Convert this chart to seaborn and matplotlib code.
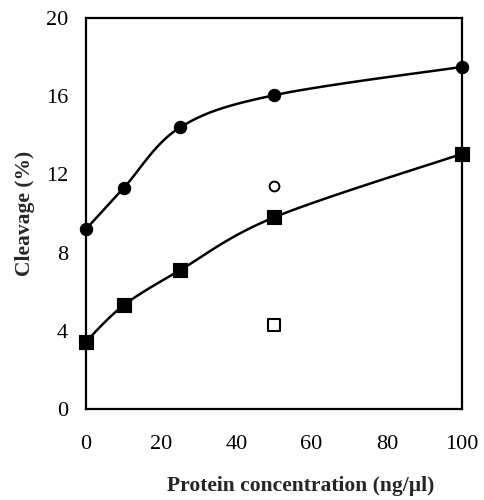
import numpy as np
import pandas as pd
import matplotlib
matplotlib.use("Agg")
import matplotlib.pyplot as plt
import seaborn as sns

# data
conc = [0, 10, 25, 50, 100]
filled_circle = [9.2, 11.3, 14.4, 16.05, 17.5]
filled_square = [3.45, 5.3, 7.1, 9.8, 13.05]
open_x = [50]
open_circle = [11.4]
open_square = [4.3]
x_ticks = [0, 20, 40, 60, 80, 100]
y_ticks = [0, 4, 8, 12, 16, 20]


def smooth(xs, ys, n=30):
    """Catmull-Rom curve through the points (display smoothing only)."""
    P = np.column_stack([xs, ys]).astype(float)
    P = np.vstack([P[0], P, P[-1]])
    out = []
    for i in range(1, len(P) - 2):
        p0, p1, p2, p3 = P[i - 1], P[i], P[i + 1], P[i + 2]
        t = np.linspace(0, 1, n, endpoint=False)[:, None]
        seg = 0.5 * ((2 * p1) + (-p0 + p2) * t + (2 * p0 - 5 * p1 + 4 * p2 - p3) * t ** 2
                     + (-p0 + 3 * p1 - 3 * p2 + p3) * t ** 3)
        out.append(seg)
    out.append(P[-2][None, :])
    out = np.vstack(out)
    return out[:, 0], out[:, 1]


sns.set_style("white")
plt.rcParams['font.family'] = ['Liberation Serif', 'DejaVu Serif']

fig = plt.figure(figsize=(4.84, 5.0), dpi=100)
ax = fig.add_axes([86 / 484, 91 / 500, 376 / 484, 391 / 500])

for ys in (filled_circle, filled_square):
    sx, sy = smooth(conc, ys)
    df = pd.DataFrame({"x": sx, "y": sy})
    sns.lineplot(data=df, x="x", y="y", sort=False, estimator=None, color="black",
                 lw=1.8, ax=ax)

kw = dict(ax=ax, zorder=5, clip_on=False)
sns.scatterplot(x=conc, y=filled_circle, marker="o", s=80, color="black",
                edgecolor="black", **kw)
sns.scatterplot(x=conc, y=filled_square, marker="s", s=105, color="black",
                edgecolor="black", **kw)
sns.scatterplot(x=open_x, y=open_circle, marker="o", s=50, facecolor="white",
                edgecolor="black", linewidth=1.4, **kw)
sns.scatterplot(x=open_x, y=open_square, marker="s", s=75, facecolor="white",
                edgecolor="black", linewidth=1.5, **kw)

ax.set_xlim(0, 100)
ax.set_ylim(0, 20)
ax.set_xticks(x_ticks)
ax.set_yticks(y_ticks)
ax.tick_params(axis="both", length=0, labelsize=16, colors="black")
ax.tick_params(axis="x", pad=19)
ax.tick_params(axis="y", pad=13)
for sp in ax.spines.values():
    sp.set_color("black")
    sp.set_linewidth(1.6)

ax.set_xlabel("Protein concentration (ng/µl)", fontsize=15.5, fontweight="bold")
ax.xaxis.set_label_coords(0.57, -0.172)
ax.set_ylabel("Cleavage (%)", fontsize=15.5, fontweight="bold", labelpad=8)

fig.savefig("out.png", dpi=100)
